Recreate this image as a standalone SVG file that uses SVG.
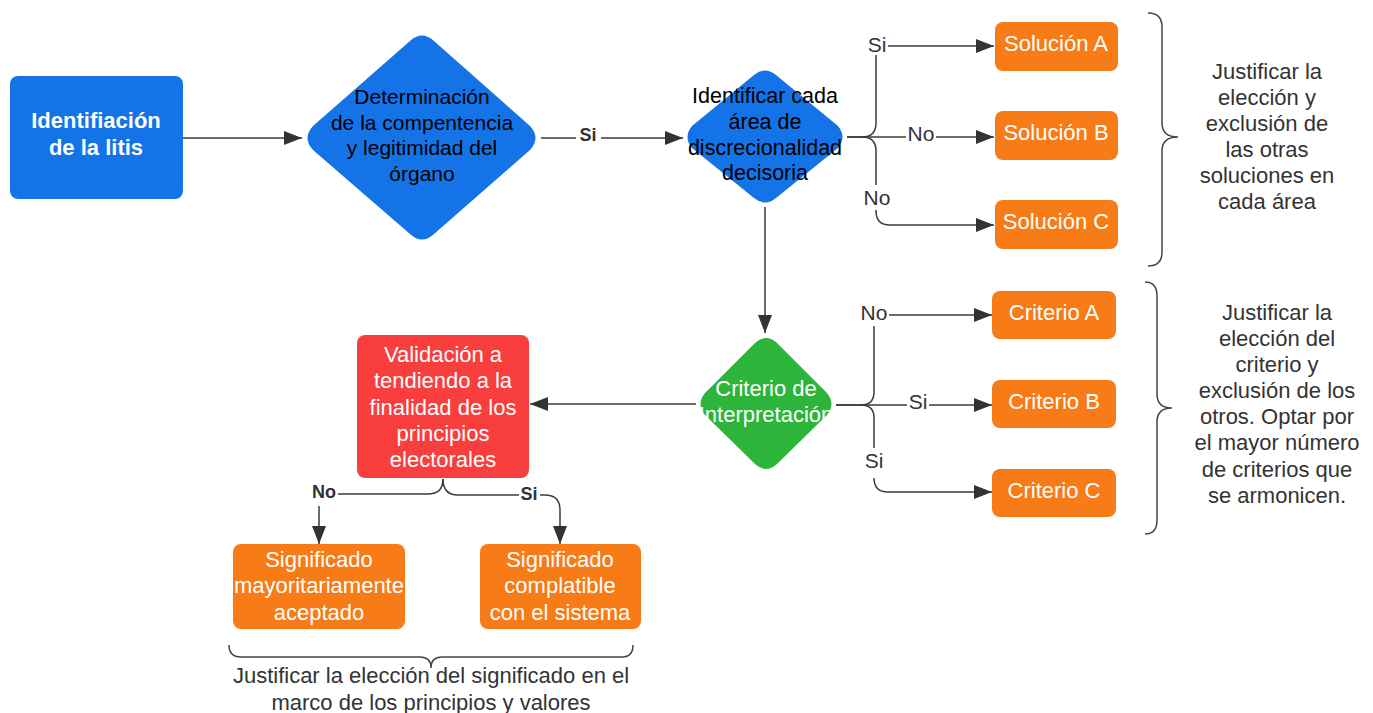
<svg xmlns="http://www.w3.org/2000/svg" width="1373" height="713" viewBox="0 0 1373 713">
<defs>
<style>
text{font-family:"Liberation Sans",Arial,sans-serif;text-anchor:middle}
.w{fill:#fff;font-size:22px}
.wb{fill:#fff;font-size:22px;font-weight:bold}
.k{fill:#000;font-size:21px}
.t{fill:#333;font-size:22px}
.lb{fill:#333;font-size:21px}
.lbb{fill:#333;font-size:18px;font-weight:bold}
.ln{fill:none;stroke:#3b3b3b;stroke-width:1.5}
.arr{marker-end:url(#ah)}
.bg{fill:#fff}
.br{fill:none;stroke:#444;stroke-width:1.5}
</style>
<marker id="ah" markerUnits="userSpaceOnUse" markerWidth="18" markerHeight="14" refX="18" refY="7" orient="auto">
<path d="M0,0 L18,7 L0,14 z" fill="#333"/>
</marker>
</defs>
<rect width="1373" height="713" fill="#fff"/>

<g id="connectors">
<path class="ln arr" d="M183,138 H302"/>
<path class="ln arr" d="M541,138 H683"/>
<path class="ln arr" d="M847,137 H862 Q876,137 876,123 V46 H994"/>
<path class="ln arr" d="M847,137 H994"/>
<path class="ln arr" d="M862,137 Q876,137 876,151 V211 Q876,225 890,225 H994"/>
<path class="ln arr" d="M765,207 V333"/>
<path class="ln arr" d="M836,405 H861 Q874,405 874,392 V315 H992"/>
<path class="ln arr" d="M836,405 H992"/>
<path class="ln arr" d="M861,405 Q874,405 874,418 V478 Q874,492 888,492 H992"/>
<path class="ln arr" d="M696,404 H530"/>
<path class="ln arr" d="M443,479 Q443,494 428,494 H319 V544"/>
<path class="ln arr" d="M443,479 Q443,495 458,495 H545 Q560,495 560,510 V544"/>
<rect class="bg" x="576" y="128" width="25" height="18"/>
<text class="lbb" x="588" y="141">Si</text>
<rect class="bg" x="866" y="33" width="22" height="22"/>
<text class="lb" x="877" y="52">Si</text>
<rect class="bg" x="906" y="127" width="30" height="20"/>
<text class="lb" x="921" y="141">No</text>
<rect class="bg" x="862" y="185" width="30" height="25"/>
<text class="lb" x="877" y="205">No</text>
<rect class="bg" x="859" y="301" width="30" height="25"/>
<text class="lb" x="874" y="320">No</text>
<rect class="bg" x="907" y="394" width="22" height="20"/>
<text class="lb" x="918" y="409">Si</text>
<rect class="bg" x="863" y="448" width="22" height="30"/>
<text class="lb" x="874" y="468">Si</text>
<rect class="bg" x="310" y="482" width="28" height="24"/>
<text class="lbb" x="324" y="498">No</text>
<rect class="bg" x="519" y="484" width="21" height="20"/>
<text class="lbb" x="529" y="500">Si</text>
</g>

<g id="n-identificacion">
<rect x="10" y="76" width="173" height="123" rx="8" fill="#1473E6"/>
<text class="wb" x="96" y="128">Identifiación</text>
<text class="wb" x="96" y="155">de la litis</text>
</g>

<g id="n-determinacion">
<path d="M410,41 Q422,30 434,41 L530,126 Q541,138 530,150 L434,234 Q422,245 410,234 L313,150 Q302,138 313,126 Z" fill="#1473E6"/>
<text class="k" x="422" y="104">Determinación</text>
<text class="k" x="422" y="130">de la compentencia</text>
<text class="k" x="422" y="155">y legitimidad del</text>
<text class="k" x="422" y="181">órgano</text>
</g>

<g id="n-identificar">
<path d="M754,75 Q765,66 776,75 L838,126 Q847,137 838,148 L776,198 Q765,207 754,198 L692,148 Q683,137 692,126 Z" fill="#1473E6"/>
<text class="k" x="765" y="103" style="font-size:21.5px">Identificar cada</text>
<text class="k" x="765" y="129" style="font-size:21.5px">área de</text>
<text class="k" x="765" y="155" style="font-size:21.5px">discrecionalidad</text>
<text class="k" x="765" y="180" style="font-size:21.5px">decisoria</text>
</g>

<g id="n-solA">
<rect x="995" y="22" width="123" height="49" rx="8" fill="#F77B16"/>
<text class="w" x="1056" y="51">Solución A</text>
</g>
<g id="n-solB">
<rect x="995" y="111" width="123" height="49" rx="8" fill="#F77B16"/>
<text class="w" x="1056" y="140">Solución B</text>
</g>
<g id="n-solC">
<rect x="995" y="200" width="123" height="49" rx="8" fill="#F77B16"/>
<text class="w" x="1056" y="229">Solución C</text>
</g>

<g id="n-criterio-interp">
<path d="M755,343 Q766,333 777,343 L827,393 Q836,404 827,415 L777,464 Q766,474 755,464 L705,415 Q696,404 705,393 Z" fill="#2DB53B"/>
<text class="w" x="766" y="396">Criterio de</text>
<text class="w" x="766" y="422">Interpretación</text>
</g>

<g id="n-critA">
<rect x="992" y="291" width="124" height="48" rx="8" fill="#F77B16"/>
<text class="w" x="1054" y="320">Criterio A</text>
</g>
<g id="n-critB">
<rect x="992" y="380" width="124" height="48" rx="8" fill="#F77B16"/>
<text class="w" x="1054" y="409">Criterio B</text>
</g>
<g id="n-critC">
<rect x="992" y="469" width="124" height="48" rx="8" fill="#F77B16"/>
<text class="w" x="1054" y="498">Criterio C</text>
</g>

<g id="n-validacion">
<rect x="357" y="335" width="172" height="143" rx="8" fill="#F93E3E"/>
<text class="w" x="443" y="362">Validación a</text>
<text class="w" x="443" y="388">tendiendo a la</text>
<text class="w" x="443" y="415">finalidad de los</text>
<text class="w" x="443" y="441">principios</text>
<text class="w" x="443" y="467">electorales</text>
</g>

<g id="n-sig-mayor">
<rect x="233" y="544" width="172" height="85" rx="8" fill="#F77B16"/>
<text class="w" x="319" y="567">Significado</text>
<text class="w" x="319" y="593">mayoritariamente</text>
<text class="w" x="319" y="620">aceptado</text>
</g>
<g id="n-sig-compl">
<rect x="480" y="544" width="161" height="85" rx="8" fill="#F77B16"/>
<text class="w" x="560" y="567">Significado</text>
<text class="w" x="560" y="593">complatible</text>
<text class="w" x="560" y="620">con el sistema</text>
</g>

<g id="brace-soluciones">
<path class="br" d="M1148,13 Q1162,13 1162,27 V123 Q1162,137 1178,137 Q1162,137 1162,151 V252 Q1162,266 1148,266"/>
<text class="t" x="1267" y="79">Justificar la</text>
<text class="t" x="1267" y="105">elección y</text>
<text class="t" x="1267" y="131">exclusión de</text>
<text class="t" x="1267" y="157">las otras</text>
<text class="t" x="1267" y="183">soluciones en</text>
<text class="t" x="1267" y="209">cada área</text>
</g>

<g id="brace-criterios">
<path class="br" d="M1145,282 Q1157,282 1157,296 V394 Q1157,408 1172,408 Q1157,408 1157,422 V520 Q1157,534 1145,534"/>
<text class="t" x="1277" y="320">Justificar la</text>
<text class="t" x="1277" y="346">elección del</text>
<text class="t" x="1277" y="372">criterio y</text>
<text class="t" x="1277" y="398">exclusión de los</text>
<text class="t" x="1277" y="424">otros. Optar por</text>
<text class="t" x="1277" y="450">el mayor número</text>
<text class="t" x="1277" y="477">de criterios que</text>
<text class="t" x="1277" y="503">se armonicen.</text>
</g>

<g id="brace-significado">
<path class="br" d="M229,645 Q229,657 241,657 H420 Q431,657 431,668 Q431,657 442,657 H622 Q633,657 633,645"/>
<text class="t" x="431" y="683">Justificar la elección del significado en el</text>
<text class="t" x="431" y="710">marco de los principios y valores</text>
</g>
</svg>
